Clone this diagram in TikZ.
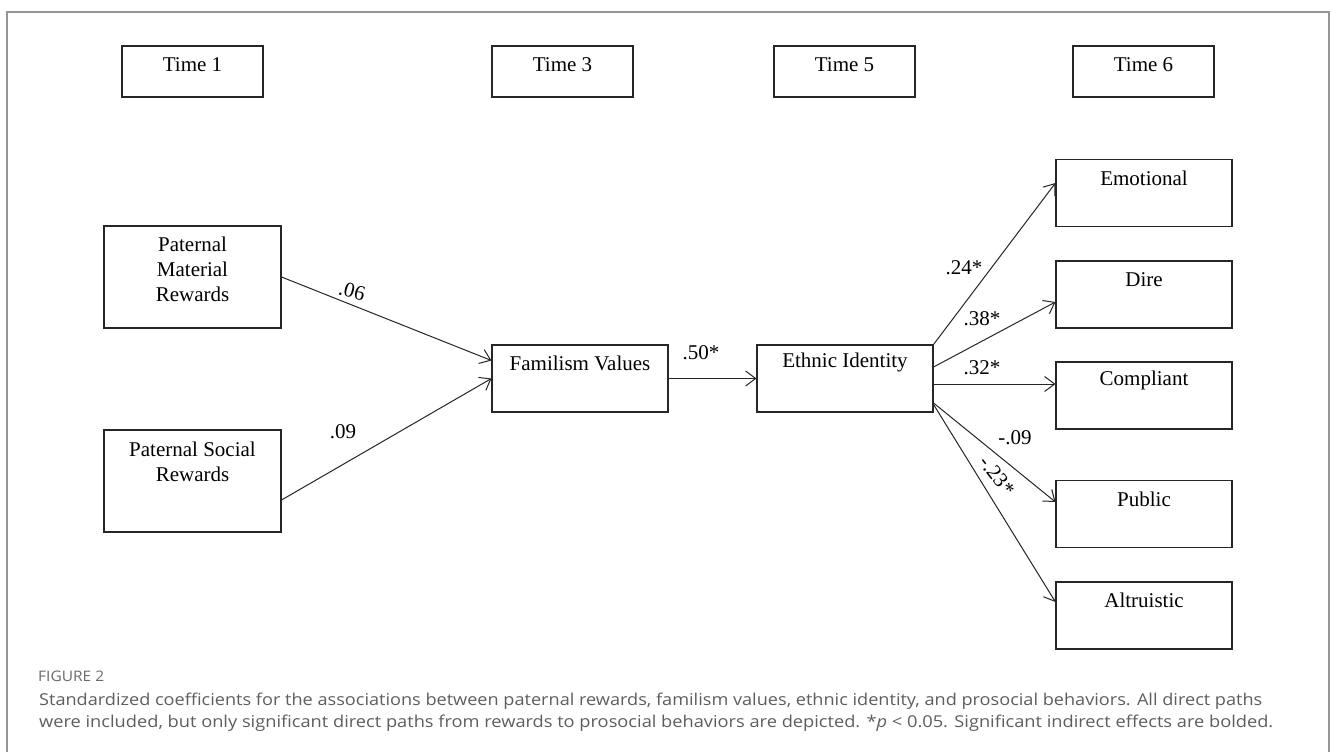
\documentclass[tikz,border=0pt]{standalone}
\usepackage{fontspec}
\setmainfont{Liberation Serif}
\newfontfamily\capfont{Open Sans}
\usetikzlibrary{arrows.meta,calc}
\definecolor{framegray}{HTML}{959595}
\definecolor{capgray}{HTML}{5e5e5e}
\definecolor{figgray}{HTML}{6a6a6a}
\definecolor{ink}{HTML}{262626}
\begin{document}
\begin{tikzpicture}[x=1pt,y=-1pt,
  box/.style={draw=ink, line width=1.1pt, rectangle, inner sep=0pt},
  tbox/.style={box, minimum width=141pt, minimum height=51pt},
  mbox/.style={box, minimum width=176pt, minimum height=67pt},
  lbox/.style={box, minimum width=177pt, minimum height=102pt},
  txt/.style={font=\fontsize{21}{25}\selectfont, inner sep=0pt, align=center, text=black},
  lab/.style={font=\fontsize{21}{25}\selectfont, inner sep=0pt, text=black},
  path/.style={draw=ink, line width=1pt, -{Straight Barb[length=10pt,width=15pt,line width=1pt]}},
  capline/.style={anchor=base west, inner sep=0pt, text=capgray}
]
\useasboundingbox (0,0) rectangle (1330,752);
\fill[white] (0,0) rectangle (1330,752);
% outer frame
\draw[framegray, line width=1.6pt] (7,752) -- (7,12) -- (1329,12) -- (1329,752);

% time boxes
\node[tbox] (t1) at (192.5,71.5) {};
\node[tbox] (t3) at (562.5,71.5) {};
\node[tbox] (t5) at (844.5,71.5) {};
\node[tbox] (t6) at (1143.5,71.5) {};
\node[txt] (t1t) at ($(t1.north)+(0,19)$) {Time 1};
\node[txt] (t3t) at ($(t3.north)+(0,19)$) {Time 3};
\node[txt] (t5t) at ($(t5.north)+(0,19)$) {Time 5};
\node[txt] (t6t) at ($(t6.north)+(0,19)$) {Time 6};

% predictors
\node[lbox] (pmr) at (192.5,277) {};
\node[lbox] (psr) at (192.5,481) {};
\node[txt] (pmrt) at ($(pmr.north)+(0,44)$) {Paternal\\Material\\Rewards};
\node[txt] (psrt) at ($(psr.north)+(0,32.5)$) {Paternal Social\\Rewards};

% mediators
\node[mbox] (fam) at (580,378.5) {};
\node[mbox] (eth) at (845,378.5) {};
\node[txt] (famt) at ($(fam.north)+(0,18.5)$) {Familism Values};
\node[txt] (etht) at ($(eth.north)+(0,18.5)$) {Ethnic Identity};

% outcomes
\node[mbox] (emo) at (1144,193) {};
\node[mbox] (dire) at (1144,294.5) {};
\node[mbox] (comp) at (1144,395.5) {};
\node[mbox] (pub) at (1144,514) {};
\node[mbox] (alt) at (1144,615.5) {};
\node[txt] (emot) at ($(emo.north)+(0,19)$) {Emotional};
\node[txt] (diret) at ($(dire.north)+(0,19)$) {Dire};
\node[txt] (compt) at ($(comp.north)+(0,19)$) {Compliant};
\node[txt] (pubt) at ($(pub.north)+(0,19)$) {Public};
\node[txt] (altt) at ($(alt.north)+(0,19)$) {Altruistic};

% connectors
\draw[path] (pmr.east) -- ($(fam.west)+(0,-18)$);
\draw[path] ($(psr.east)+(0,19)$) -- (fam.west);
\draw[path] (fam.east) -- (eth.west);
\draw[path] (eth.north east) -- ($(emo.west)+(0,-10)$);
\draw[path] ($(eth.east)+(0,-11.5)$) -- ($(dire.west)+(0,7.5)$);
\draw[path] ($(eth.east)+(0,5.5)$) -- ($(comp.west)+(0,-11.5)$);
\draw[path] ($(eth.east)+(0,24.5)$) -- ($(pub.west)+(0,-12)$);
\draw[path] ($(eth.east)+(0,26)$) -- ($(alt.west)+(0,-13.5)$);

% coefficient labels
\node[lab, rotate=-15] (l06) at (352,291) {.06};
\node[lab] (l09) at (343,432) {.09};
\node[lab] (l50) at (701,353) {.50*};
\node[lab] (l24) at (964,268) {.24*};
\node[lab] (l38) at (982,319) {.38*};
\node[lab] (l32) at (982,368) {.32*};
\node[lab] (l09n) at (1015,438) {-.09};
\node[lab, rotate=-52] (l23) at (997,476) {-.23*};

% caption
\node[capline, text=figgray] (fig) at (38,681) {\resizebox{66pt}{10.5pt}{\capfont\fontsize{14}{16}\selectfont FIGURE 2}};
\node[capline] (cap1) at (39,705) {\resizebox{1223pt}{12.5pt}{\capfont\fontsize{15}{18}\selectfont Standardized coefficients for the associations between paternal rewards, familism values, ethnic identity, and prosocial behaviors. All direct paths}};
\node[capline] (cap2) at (39,727) {\resizebox{1234pt}{12.5pt}{\capfont\fontsize{15}{18}\selectfont were included, but only significant direct paths from rewards to prosocial behaviors are depicted. *\textit{p} < 0.05. Significant indirect effects are bolded.}};
\end{tikzpicture}
\end{document}
